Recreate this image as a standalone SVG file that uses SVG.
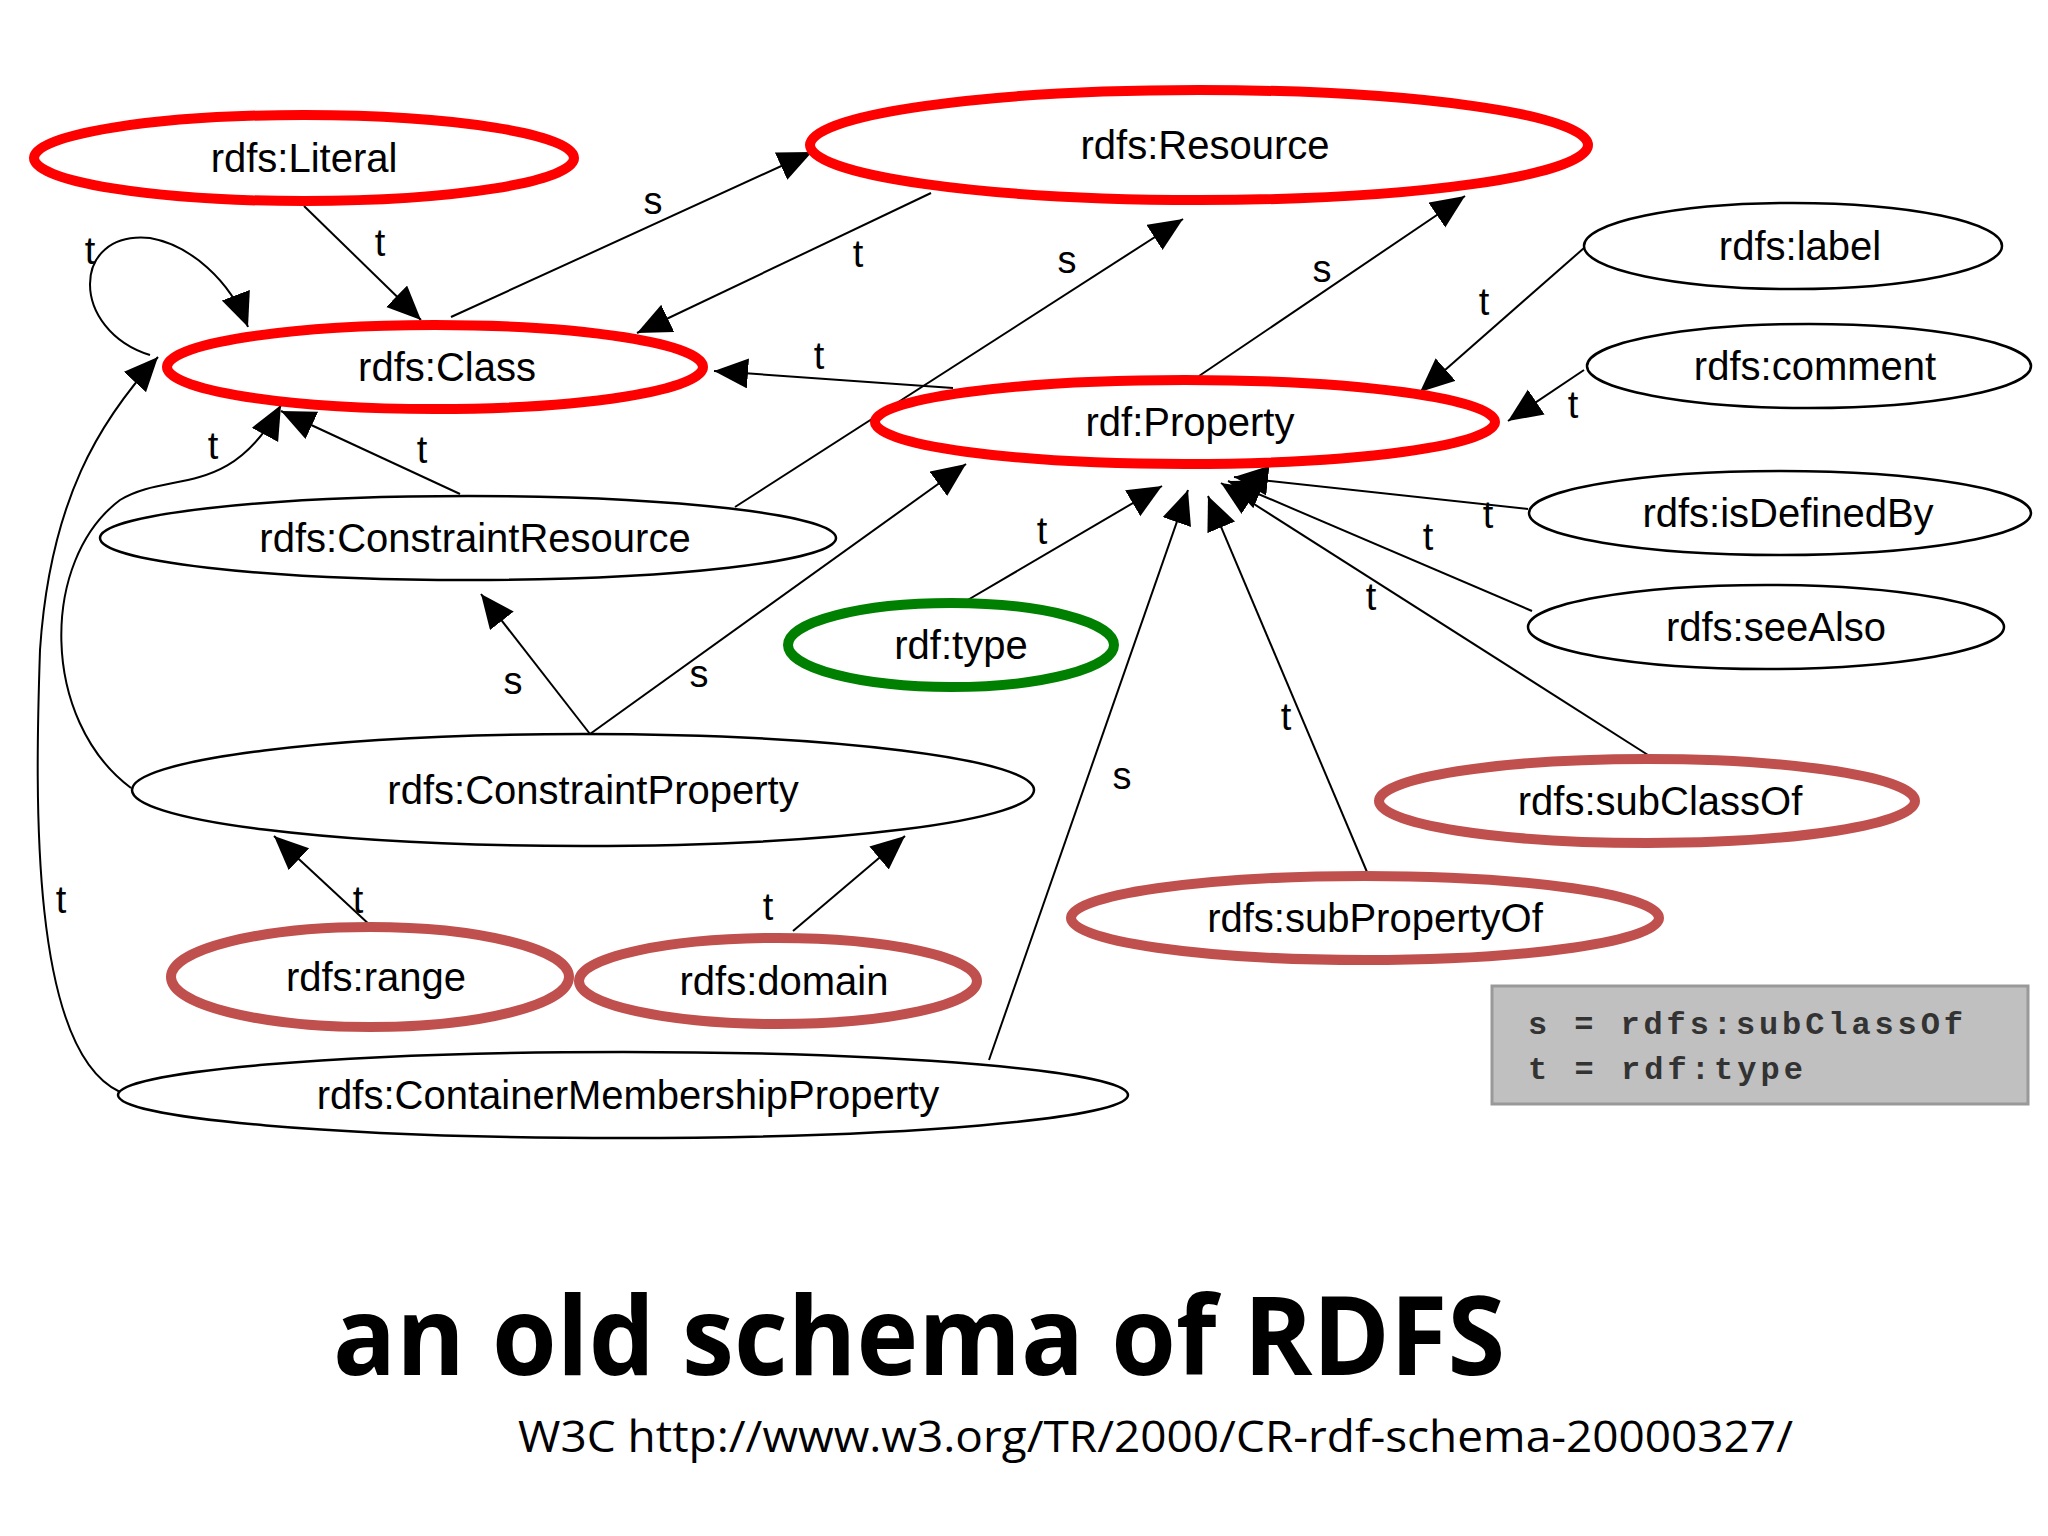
<svg xmlns="http://www.w3.org/2000/svg" width="2048" height="1536" viewBox="0 0 2048 1536">
<style>
.red{fill:none;stroke:#f00;stroke-width:10}
.dred{fill:none;stroke:#c0504d;stroke-width:10}
.grn{fill:none;stroke:#008000;stroke-width:10}
.thin{fill:none;stroke:#000;stroke-width:2.5}
.n{font-family:"Liberation Sans",Arial,sans-serif;font-size:40px;text-anchor:middle;fill:#000}
.e{fill:none;stroke:#000;stroke-width:2}
.l{font-family:"Liberation Sans",Arial,sans-serif;font-size:38px;text-anchor:middle;fill:#000}
</style>
<defs>
<marker id="a" markerUnits="userSpaceOnUse" markerWidth="36" markerHeight="34" refX="34" refY="15" orient="auto">
<path d="M0,0 L34,15 L0,30 Z" fill="#000"/>
</marker>
</defs>
<rect width="2048" height="1536" fill="#fff"/>
<g id="edges">
<path class="e" marker-end="url(#a)" d="M451,317 L812,152"/>
<path class="e" marker-end="url(#a)" d="M931,193 L637,333"/>
<path class="e" marker-end="url(#a)" d="M304,206 L421,320"/>
<path class="e" marker-end="url(#a)" d="M150,355 C70,330 70,230 150,238 C190,245 230,280 248,327"/>
<path class="e" marker-end="url(#a)" d="M953,388 L714,371"/>
<path class="e" marker-end="url(#a)" d="M735,507 L1183,219"/>
<path class="e" marker-end="url(#a)" d="M1199,376 L1465,196"/>
<path class="e" marker-end="url(#a)" d="M1584,248 L1420,392"/>
<path class="e" marker-end="url(#a)" d="M1584,370 L1508,421"/>
<path class="e" marker-end="url(#a)" d="M1528,509 L1234,477"/>
<path class="e" marker-end="url(#a)" d="M1532,611 L1228,481"/>
<path class="e" marker-end="url(#a)" d="M1648,755 L1221,483"/>
<path class="e" marker-end="url(#a)" d="M1367,872 L1208,496"/>
<path class="e" marker-end="url(#a)" d="M966,601 L1162,486"/>
<path class="e" marker-end="url(#a)" d="M989,1060 L1188,490"/>
<path class="e" marker-end="url(#a)" d="M460,494 L281,411"/>
<path class="e" marker-end="url(#a)" d="M131,788 C40,720 40,560 120,500 C170,470 230,500 281,405"/>
<path class="e" marker-end="url(#a)" d="M590,734 L481,594"/>
<path class="e" marker-end="url(#a)" d="M590,734 L966,464"/>
<path class="e" marker-end="url(#a)" d="M372,927 L274,836"/>
<path class="e" marker-end="url(#a)" d="M793,931 L905,836"/>
<path class="e" marker-end="url(#a)" d="M120,1092 C30,1050 35,800 40,650 C50,500 100,420 158,357"/>
<text class="l" x="653" y="214">s</text>
<text class="l" x="858" y="267">t</text>
<text class="l" x="380" y="256">t</text>
<text class="l" x="90" y="264">t</text>
<text class="l" x="819" y="369">t</text>
<text class="l" x="1067" y="273">s</text>
<text class="l" x="1322" y="282">s</text>
<text class="l" x="1484" y="315">t</text>
<text class="l" x="1573" y="418">t</text>
<text class="l" x="1488" y="528">t</text>
<text class="l" x="1428" y="550">t</text>
<text class="l" x="1371" y="610">t</text>
<text class="l" x="1286" y="730">t</text>
<text class="l" x="1042" y="544">t</text>
<text class="l" x="1122" y="789">s</text>
<text class="l" x="422" y="463">t</text>
<text class="l" x="213" y="459">t</text>
<text class="l" x="513" y="694">s</text>
<text class="l" x="699" y="687">s</text>
<text class="l" x="358" y="913">t</text>
<text class="l" x="768" y="920">t</text>
<text class="l" x="61" y="913">t</text>
</g>
<g id="n-literal"><ellipse class="red" cx="304" cy="158" rx="270" ry="43"/><text class="n" x="304" y="172">rdfs:Literal</text></g>
<g id="n-resource"><ellipse class="red" cx="1199" cy="145" rx="389" ry="55"/><text class="n" x="1205" y="159">rdfs:Resource</text></g>
<g id="n-class"><ellipse class="red" cx="435" cy="367" rx="268" ry="42"/><text class="n" x="447" y="381">rdfs:Class</text></g>
<g id="n-property"><ellipse class="red" cx="1185" cy="422" rx="310" ry="42"/><text class="n" x="1190" y="436">rdf:Property</text></g>
<g id="n-label"><ellipse class="thin" cx="1793" cy="246" rx="209" ry="43"/><text class="n" x="1800" y="260">rdfs:label</text></g>
<g id="n-comment"><ellipse class="thin" cx="1809" cy="366" rx="222" ry="42"/><text class="n" x="1815" y="380">rdfs:comment</text></g>
<g id="n-isdefinedby"><ellipse class="thin" cx="1780" cy="513" rx="251" ry="42"/><text class="n" x="1788" y="527">rdfs:isDefinedBy</text></g>
<g id="n-seealso"><ellipse class="thin" cx="1766" cy="627" rx="238" ry="42"/><text class="n" x="1776" y="641">rdfs:seeAlso</text></g>
<g id="n-constraintresource"><ellipse class="thin" cx="468" cy="538" rx="368" ry="42"/><text class="n" x="475" y="552">rdfs:ConstraintResource</text></g>
<g id="n-type"><ellipse class="grn" cx="951" cy="645" rx="163" ry="42"/><text class="n" x="961" y="659">rdf:type</text></g>
<g id="n-constraintproperty"><ellipse class="thin" cx="583" cy="790" rx="451" ry="56"/><text class="n" x="593" y="804">rdfs:ConstraintProperty</text></g>
<g id="n-subclassof"><ellipse class="dred" cx="1647" cy="801" rx="268" ry="42"/><text class="n" x="1660" y="815">rdfs:subClassOf</text></g>
<g id="n-subpropertyof"><ellipse class="dred" cx="1365" cy="918" rx="294" ry="42"/><text class="n" x="1375" y="932">rdfs:subPropertyOf</text></g>
<g id="n-range"><ellipse class="dred" cx="370" cy="977" rx="199" ry="50"/><text class="n" x="376" y="991">rdfs:range</text></g>
<g id="n-domain"><ellipse class="dred" cx="778" cy="981" rx="199" ry="43"/><text class="n" x="784" y="995">rdfs:domain</text></g>
<g id="n-cmp"><ellipse class="thin" cx="623" cy="1095" rx="505" ry="43"/><text class="n" x="628" y="1109">rdfs:ContainerMembershipProperty</text></g>
<g id="legend">
<rect x="1492" y="986" width="536" height="118" fill="#c0c0c0" stroke="#999" stroke-width="3"/>
<text x="1528" y="1034" font-family="'Liberation Mono',monospace" font-weight="bold" font-size="32" fill="#333" textLength="435" xml:space="preserve">s = rdfs:subClassOf</text>
<text x="1528" y="1079" font-family="'Liberation Mono',monospace" font-weight="bold" font-size="32" fill="#333" textLength="275" xml:space="preserve">t = rdf:type</text>
</g>
<text x="333" y="1375" font-family="'Open Sans','Liberation Sans',sans-serif" font-weight="bold" font-size="110" textLength="1172" lengthAdjust="spacingAndGlyphs" fill="#000">an old schema of RDFS</text>
<text x="518" y="1452" font-family="'Open Sans','Liberation Sans',sans-serif" font-size="44" textLength="1275" lengthAdjust="spacingAndGlyphs" fill="#000">W3C http://www.w3.org/TR/2000/CR-rdf-schema-20000327/</text>
</svg>
